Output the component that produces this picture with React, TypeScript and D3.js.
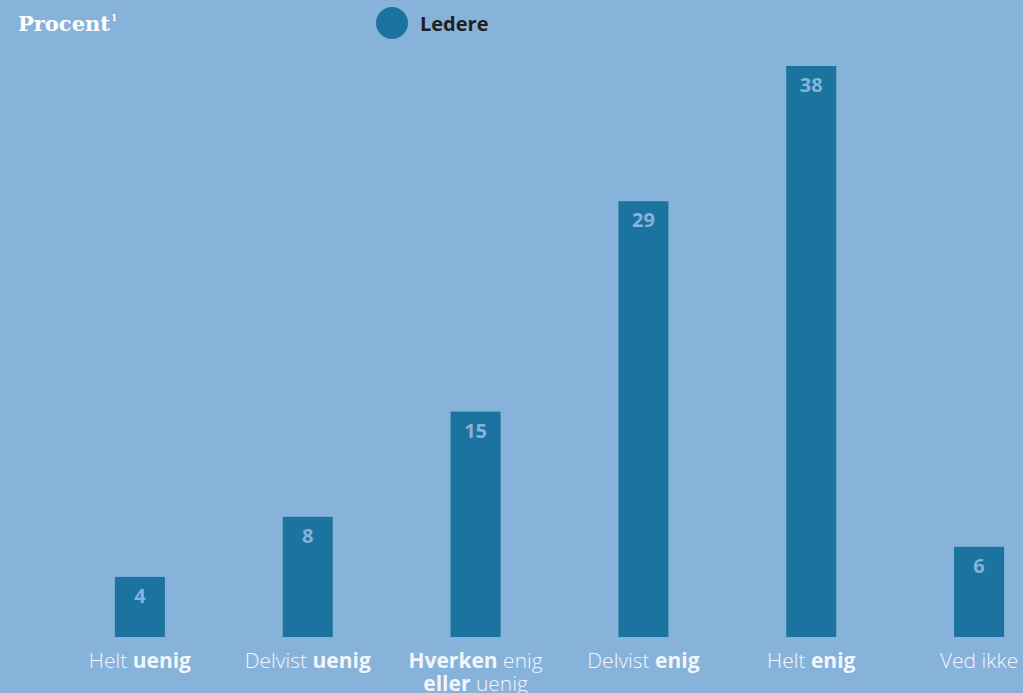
import React from "react";
import * as d3 from "d3";

const categories = ["Helt uenig", "Delvist uenig", "Hverken enig eller uenig", "Delvist enig", "Helt enig", "Ved ikke"];
const values = [4, 8, 15, 29, 38, 6];
// label parts: [text, bold] per line
const labelLines: [string, boolean][][][] = [
  [[["Helt ", false], ["uenig", true]]],
  [[["Delvist ", false], ["uenig", true]]],
  [[["Hverken", true], [" enig", false]], [["eller", true], [" uenig", false]]],
  [[["Delvist ", false], ["enig", true]]],
  [[["Helt ", false], ["enig", true]]],
  [[["Ved ikke", false]]],
];
const seriesName = "Ledere";
const yLabel = "Procent";

const W = 1023;
const H = 693;
const BG = "#87b2da";
const BAR = "#1b74a0";

export default function App() {
  const x = d3
    .scaleBand<string>()
    .domain(categories)
    .range([56, 1063])
    .paddingInner(0.702)
    .paddingOuter(0.351);
  const y = d3.scaleLinear().domain([0, 38]).range([637, 66]);
  const font = "'Open Sans', sans-serif";

  return (
    <svg
      width={W}
      height={H}
      style={{ position: "fixed", left: 0, top: 0, display: "block" }}
    >
      <rect x={0} y={0} width={W} height={H} fill={BG} />
      <text x={18} y={31} fill="#fff" fontFamily="'DejaVu Serif', serif" fontWeight="bold" fontSize={21}>
        {yLabel}
        <tspan fontSize={9} dy={-10} dx={1}>1</tspan>
      </text>
      <circle cx={392} cy={23} r={16} fill={BAR} />
      <text x={420} y={31} fill="#231f20" fontFamily={font} fontWeight="bold" fontSize={20}>
        {seriesName}
      </text>
      {categories.map((c, i) => {
        const bx = x(c)!;
        const bw = x.bandwidth();
        const cx = bx + bw / 2;
        return (
          <g key={c}>
            <rect x={bx} y={y(values[i])} width={bw} height={y(0) - y(values[i])} fill={BAR} />
            <text
              x={cx}
              y={y(values[i]) + 26}
              textAnchor="middle"
              fill="#87b2da"
              fontFamily={font}
              fontWeight="bold"
              fontSize={20}
            >
              {values[i]}
            </text>
            {labelLines[i].map((line, li) => (
              <text
                key={li}
                x={cx}
                y={668 + li * 23}
                textAnchor="middle"
                fill="#f2f6fb"
                fontFamily={font}
                fontSize={21}
              >
                {line.map(([t, b], k) => (
                  <tspan key={k} fontWeight={b ? "bold" : 300}>
                    {t}
                  </tspan>
                ))}
              </text>
            ))}
          </g>
        );
      })}
    </svg>
  );
}
